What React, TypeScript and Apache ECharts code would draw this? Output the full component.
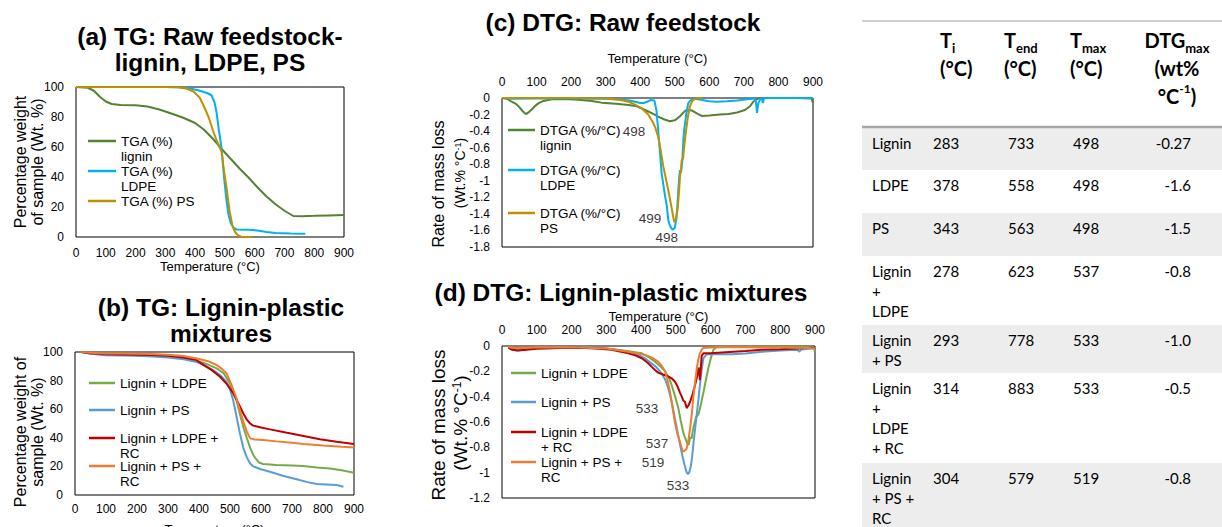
import { useEffect, useRef } from 'react';
import * as echarts from 'echarts';

const FONT = 'Arial, "Liberation Sans", sans-serif';
const TFONT = 'Lato, "Open Sans", sans-serif';

// ---------- data: temperature axis ----------
const tempMin = 0;
const tempMax = 900;
const tempStep = 100;

// ---------- (a) TG raw feedstock: [T (°C), weight %] ----------
const tgaLignin = [[0,100],[40,99.5],[60,97.5],[80,93.5],[100,90.3],[120,88.7],[150,88],[200,87.9],[240,87],[280,85],[320,82.3],[360,79.5],[400,76],[430,71.5],[460,65.5],[490,58.5],[520,52],[550,45.5],[580,39.5],[610,33],[640,27],[670,21.8],[700,17.5],[730,14],[760,13.9],[800,14.1],[850,14.4],[900,14.7]];
const tgaLdpe = [[0,100],[100,100],[200,100],[300,100],[350,99.8],[380,99.2],[410,97.8],[440,96],[455,94.5],[465,90],[472,83],[480,71],[489,59],[497,40],[505,25],[512,15],[520,9],[530,6],[540,5],[580,4.8],[610,4.4],[640,3.3],[670,2.6],[720,2.3],[770,2.2]];
const tgaPs = [[0,100],[100,100],[200,100],[300,100],[340,99.8],[370,99],[395,97],[415,93],[430,87],[445,80],[460,71],[475,63],[489,57],[497,44],[506,32],[516,17],[526,7],[535,3],[545,1],[555,0.2],[590,0]];

// ---------- (b) TG lignin-plastic mixtures ----------
const tgLigninLdpe = [[20,100],[50,99],[100,98.3],[150,98],[200,97.8],[250,97.3],[300,96.8],[350,95.8],[392,94],[420,92],[457,88.6],[480,85],[500,78],[510,72],[521,66],[535,54],[545,46],[554,40],[565,33],[575,28],[581,26],[595,22.5],[607,21.7],[650,21],[700,20.6],[737,20.2],[780,19.2],[823,18.5],[860,17.3],[900,15.6]];
const tgLigninPs = [[20,100],[50,98.8],[100,97.8],[150,97.6],[200,97.3],[250,96.8],[300,96.2],[350,95],[393,93],[420,90.5],[446,87.4],[470,83.5],[489,79],[500,74],[510,66.4],[520,56],[532,43],[543,33],[554,26.5],[565,22],[575,20],[600,18],[629,16.3],[670,13.5],[715,11],[750,9],[780,7.7],[844,7],[866,5.8]];
const tgLigninLdpeRc = [[20,100],[50,99.2],[100,98.5],[150,98.3],[200,98.1],[250,97.9],[300,97.3],[350,96.2],[390,94.6],[414,91],[440,87.5],[468,82.7],[490,77.5],[511,71],[525,65],[543,57],[555,52.5],[565,50],[575,48.5],[600,47.2],[629,45.9],[680,43.7],[737,41.3],[790,39],[844,37.3],[900,35.7]];
const tgLigninPsRc = [[20,100],[50,99.5],[100,99],[150,98.9],[200,98.8],[250,98.6],[300,98.1],[350,97.2],[393,95.5],[430,93.5],[457,90.9],[475,88],[489,85],[505,77],[521,67.6],[532,59],[543,51.3],[555,44],[565,39.6],[580,38.8],[607,38.5],[650,37.5],[700,36.5],[737,35.7],[800,34.7],[860,33.8],[900,33.3]];

// ---------- (c) DTG raw feedstock: [T (°C), %/°C] ----------
const dtgLignin = [[0,0],[15,-0.01],[28,-0.045],[40,-0.07],[50,-0.11],[60,-0.16],[69,-0.195],[78,-0.17],[86,-0.14],[95,-0.1],[105,-0.065],[120,-0.035],[144,-0.016],[180,-0.012],[221,-0.02],[260,-0.035],[288,-0.056],[330,-0.07],[366,-0.085],[390,-0.1],[414,-0.145],[435,-0.185],[452,-0.225],[470,-0.26],[486,-0.28],[500,-0.27],[515,-0.22],[530,-0.155],[540,-0.145],[549,-0.15],[565,-0.19],[578,-0.217],[600,-0.21],[630,-0.2],[655,-0.193],[680,-0.175],[703,-0.145],[718,-0.1],[727,-0.045],[741,-0.005],[780,0],[850,0],[896,-0.005],[900,-0.06]];
const dtgLdpe = [[0,0],[20,-0.01],[100,-0.005],[200,-0.005],[300,-0.01],[350,-0.02],[370,-0.03],[385,-0.045],[400,-0.06],[410,-0.06],[420,-0.045],[430,-0.025],[441,-0.03],[447,-0.15],[452,-0.39],[457,-0.65],[462,-0.91],[467,-1.05],[472,-1.19],[477,-1.3],[481,-1.47],[486,-1.54],[491,-1.58],[494,-1.59],[500,-1.57],[505,-1.45],[508,-1.27],[512,-1.0],[515,-0.87],[518,-0.9],[520,-0.83],[522,-0.75],[525,-0.5],[527,-0.39],[533,-0.2],[539,-0.064],[545,-0.03],[558,-0.01],[575,-0.02],[600,-0.04],[620,-0.045],[650,-0.04],[680,-0.03],[710,-0.015],[730,-0.005],[735,-0.05],[738,-0.18],[742,-0.06],[748,-0.01],[752,-0.01],[755,-0.06],[758,0],[800,0],[900,0]];
const dtgPs = [[0,0],[100,0],[200,0],[300,-0.005],[340,-0.02],[366,-0.045],[385,-0.08],[404,-0.125],[423,-0.2],[435,-0.28],[443,-0.35],[452,-0.47],[460,-0.65],[467,-0.83],[474,-0.97],[481,-1.11],[486,-1.22],[491,-1.33],[496,-1.45],[499,-1.5],[503,-1.46],[508,-1.35],[512,-1.15],[515,-0.95],[518,-0.86],[520,-0.75],[524,-0.73],[527,-0.6],[531,-0.45],[534,-0.35],[539,-0.2],[544,-0.1],[550,-0.04],[558,-0.01],[580,0]];

// ---------- (d) DTG lignin-plastic mixtures ----------
const dtgLigninLdpe = [[18,-0.01],[40,-0.02],[60,-0.02],[100,-0.012],[150,-0.01],[200,-0.01],[250,-0.012],[300,-0.02],[350,-0.035],[402,-0.058],[420,-0.085],[440,-0.124],[455,-0.16],[469,-0.2],[480,-0.25],[488,-0.31],[498,-0.4],[507,-0.49],[514,-0.59],[521,-0.68],[527,-0.73],[533,-0.77],[537,-0.78],[541,-0.72],[545,-0.73],[550,-0.65],[558,-0.56],[565,-0.54],[572,-0.46],[579,-0.37],[586,-0.27],[593,-0.18],[600,-0.1],[608,-0.03],[618,-0.005],[700,-0.005],[800,-0.005],[890,-0.008],[897,-0.01],[900,-0.05]];
const dtgLigninPs = [[18,-0.01],[30,-0.03],[45,-0.035],[60,-0.03],[80,-0.02],[120,-0.01],[200,-0.008],[260,-0.012],[300,-0.02],[340,-0.035],[384,-0.06],[410,-0.095],[430,-0.137],[445,-0.17],[459,-0.216],[470,-0.27],[478,-0.334],[488,-0.44],[497,-0.57],[505,-0.68],[512,-0.78],[519,-0.87],[525,-0.94],[530,-0.99],[534,-1.01],[538,-1.0],[543,-0.95],[547,-0.87],[550,-0.78],[555,-0.66],[560,-0.54],[565,-0.42],[569,-0.31],[574,-0.19],[579,-0.097],[588,-0.066],[620,-0.065],[660,-0.065],[700,-0.06],[747,-0.045],[800,-0.035],[850,-0.03],[855,-0.045],[860,-0.028],[890,-0.02],[900,-0.02]];
const dtgLigninLdpeRc = [[18,-0.013],[30,-0.03],[45,-0.035],[70,-0.03],[100,-0.022],[124,-0.02],[170,-0.015],[219,-0.013],[270,-0.02],[315,-0.03],[363,-0.058],[385,-0.075],[402,-0.097],[418,-0.13],[430,-0.163],[440,-0.19],[449,-0.21],[463,-0.225],[478,-0.24],[490,-0.26],[497,-0.28],[505,-0.32],[512,-0.37],[517,-0.4],[521,-0.43],[526,-0.44],[531,-0.49],[536,-0.47],[541,-0.44],[548,-0.38],[555,-0.31],[561,-0.24],[565,-0.17],[567,-0.2],[569,-0.27],[571,-0.2],[574,-0.08],[579,-0.058],[600,-0.058],[643,-0.05],[700,-0.04],[747,-0.03],[800,-0.025],[850,-0.02],[891,-0.013],[900,-0.015]];
const dtgLigninPsRc = [[18,-0.01],[40,-0.015],[100,-0.012],[200,-0.01],[260,-0.015],[300,-0.02],[363,-0.045],[411,-0.07],[430,-0.09],[449,-0.124],[460,-0.16],[469,-0.2],[476,-0.27],[483,-0.36],[490,-0.48],[497,-0.6],[505,-0.7],[512,-0.76],[516,-0.8],[519,-0.83],[524,-0.83],[528,-0.82],[531,-0.81],[536,-0.74],[541,-0.65],[546,-0.53],[550,-0.41],[555,-0.29],[560,-0.176],[565,-0.1],[569,-0.058],[575,-0.025],[579,-0.016],[600,-0.012],[643,-0.01],[700,-0.01],[800,-0.012],[880,-0.015],[900,-0.02]];

// ---------- peak annotations: [T, value] and text ----------
const peakTextsC = ['498', '499', '498'];
const peakPosC = [[382, -0.4], [428, -1.45], [477, -1.69]];
const peakTextsD = ['533', '537', '519', '533'];
const peakPosD = [[417, -0.49], [446, -0.77], [434, -0.92], [506, -1.1]];

// ---------- table ----------
const tableRows = ['Lignin', 'LDPE', 'PS', 'Lignin\n+\nLDPE', 'Lignin\n+ PS', 'Lignin\n+\nLDPE\n+ RC', 'Lignin\n+ PS +\nRC'];
const tableTi = [283, 378, 343, 278, 293, 314, 304];
const tableTend = [733, 558, 563, 623, 778, 883, 579];
const tableTmax = [498, 498, 498, 537, 533, 533, 519];
const tableDtgMax = ['-0.27', '-1.6', '-1.5', '-0.8', '-1.0', '-0.5', '-0.8'];

// ---------- colours ----------
const COL = {
  lignin: '#548235', ldpe: '#00B0F0', ps: '#BF9000',
  mLdpe: '#70AD47', mPs: '#5B9BD5', mLdpeRc: '#C00000', mPsRc: '#ED7D31',
};

function buildOption() {
  const grids = [
    { left: 76, top: 87, width: 268, height: 150 },
    { left: 75, top: 352, width: 279, height: 143 },
    { left: 502, top: 98, width: 311, height: 149 },
    { left: 502, top: 346, width: 313, height: 152 },
  ];
  const labelMarginX = [10, 8, 10, 10];
  const xNameGap = [23, 28, 33, 22];
  const yRange = [[0, 100, 20], [0, 100, 20], [-1.8, 0, 0.2], [-1.2, 0, 0.2]];

  const xAxis = grids.map((_, i) => ({
    type: 'value', gridIndex: i, min: tempMin, max: tempMax, interval: tempStep,
    position: i >= 2 ? 'top' : 'bottom',
    name: 'Temperature (°C)', nameLocation: 'middle', nameGap: xNameGap[i],
    nameTextStyle: { fontSize: 13, fontFamily: FONT, color: '#000' },
    axisLine: { show: false, onZero: false }, axisTick: { show: false }, splitLine: { show: false },
    axisLabel: { fontSize: 12, fontFamily: FONT, color: '#000', margin: labelMarginX[i] },
  }));
  const yAxis = grids.map((_, i) => ({
    type: 'value', gridIndex: i, min: yRange[i][0], max: yRange[i][1], interval: yRange[i][2],
    axisLine: { show: false }, axisTick: { show: false }, splitLine: { show: false },
    axisLabel: { fontSize: 12, fontFamily: FONT, color: '#000', margin: 12 },
  }));

  const line = (name: string, data: number[][], color: string, idx: number) => ({
    type: 'line', name, data, xAxisIndex: idx, yAxisIndex: idx,
    symbol: 'none', showSymbol: false, silent: true,
    lineStyle: { width: 2, color }, itemStyle: { color }, z: 3,
  });
  const series: any[] = [
    line('TGA (%) lignin', tgaLignin, COL.lignin, 0),
    line('TGA (%) LDPE', tgaLdpe, COL.ldpe, 0),
    line('TGA (%) PS', tgaPs, COL.ps, 0),
    line('Lignin + LDPE', tgLigninLdpe, COL.mLdpe, 1),
    line('Lignin + PS', tgLigninPs, COL.mPs, 1),
    line('Lignin + LDPE + RC', tgLigninLdpeRc, COL.mLdpeRc, 1),
    line('Lignin + PS + RC', tgLigninPsRc, COL.mPsRc, 1),
    line('DTGA (%/°C) lignin', dtgLignin, COL.lignin, 2),
    line('DTGA (%/°C) LDPE', dtgLdpe, COL.ldpe, 2),
    line('DTGA (%/°C) PS', dtgPs, COL.ps, 2),
    line('DTG Lignin + LDPE', dtgLigninLdpe, COL.mLdpe, 3),
    line('DTG Lignin + PS', dtgLigninPs, COL.mPs, 3),
    line('DTG Lignin + LDPE + RC', dtgLigninLdpeRc, COL.mLdpeRc, 3),
    line('DTG Lignin + PS + RC', dtgLigninPsRc, COL.mPsRc, 3),
  ];
  const ann = (texts: string[], pos: number[][], idx: number) => ({
    type: 'scatter', xAxisIndex: idx, yAxisIndex: idx, symbolSize: 0, silent: true, z: 5,
    data: texts.map((t, k) => ({ name: t, value: pos[k] })),
    label: { show: true, position: 'inside', formatter: '{b}', fontSize: 13.5, fontFamily: FONT, color: '#000' },
  });
  series.push(ann(peakTextsC, peakPosC, 2), ann(peakTextsD, peakPosD, 3));

  const LH = 15;
  // Leading blank lines keep the icon level with the first text line.
  const legendItem = (name: string, label: string, left: number, iconY: number, iconW: number) => {
    const n = label.split('\n').length;
    const shown = '\n'.repeat(n - 1) + label;
    return {
      data: [name], orient: 'vertical', left, top: iconY - ((2 * n - 1) * LH) / 2,
      padding: 0, itemGap: 0, itemWidth: iconW, itemHeight: 2.5, icon: 'rect', selectedMode: false,
      itemStyle: { borderWidth: 0 },
      formatter: () => shown,
      textStyle: { fontSize: 13.5, fontFamily: FONT, color: '#000', lineHeight: LH },
    };
  };
  const legend = [
    legendItem('TGA (%) lignin', 'TGA (%)\nlignin', 88, 141, 28),
    legendItem('TGA (%) LDPE', 'TGA (%)\nLDPE', 88, 171, 28),
    legendItem('TGA (%) PS', 'TGA (%) PS', 88, 201, 28),
    legendItem('Lignin + LDPE', 'Lignin + LDPE', 89, 383, 26),
    legendItem('Lignin + PS', 'Lignin + PS', 89, 410, 26),
    legendItem('Lignin + LDPE + RC', 'Lignin + LDPE +\nRC', 89, 438, 26),
    legendItem('Lignin + PS + RC', 'Lignin + PS +\nRC', 89, 466, 26),
    legendItem('DTGA (%/°C) lignin', 'DTGA (%/°C)\nlignin', 508, 130, 27),
    legendItem('DTGA (%/°C) LDPE', 'DTGA (%/°C)\nLDPE', 508, 170, 27),
    legendItem('DTGA (%/°C) PS', 'DTGA (%/°C)\nPS', 508, 213, 27),
    legendItem('DTG Lignin + LDPE', 'Lignin + LDPE', 511, 373, 25),
    legendItem('DTG Lignin + PS', 'Lignin + PS', 511, 402, 25),
    legendItem('DTG Lignin + LDPE + RC', 'Lignin + LDPE\n+ RC', 511, 432, 25),
    legendItem('DTG Lignin + PS + RC', 'Lignin + PS +\nRC', 511, 462, 25),
  ];

  const txt = (text: string, x: number, y: number, font: string, opts: any = {}) => ({
    type: 'text', x, y, rotation: opts.rotation || 0, silent: true, z: 10,
    style: {
      text, font, fill: '#000',
      align: opts.align || 'center', textAlign: opts.align || 'center',
      verticalAlign: opts.va || 'middle', textVerticalAlign: opts.va || 'middle',
      lineHeight: opts.lh, rich: opts.rich,
    },
  });
  const R90 = Math.PI / 2;
  const sup = (fs: number) => ({ sup: { fontSize: fs, fontFamily: FONT, verticalAlign: 'top', lineHeight: fs + 2 } });

  const graphic: any[] = [
    txt('(a) TG: Raw feedstock-\nlignin, LDPE, PS', 210, 49, `bold 24.5px ${FONT}`, { lh: 26 }),
    txt('(b) TG: Lignin-plastic\nmixtures', 221, 320, `bold 24.5px ${FONT}`, { lh: 26 }),
    txt('(c) DTG: Raw feedstock', 623, 22, `bold 24.5px ${FONT}`),
    txt('(d) DTG: Lignin-plastic mixtures', 621, 292, `bold 24.5px ${FONT}`),
    txt('Percentage weight', 20, 162, `16px ${FONT}`, { rotation: R90 }),
    txt('of sample (Wt. %)', 37, 162, `16px ${FONT}`, { rotation: R90 }),
    txt('Percentage weight of', 20, 432, `16px ${FONT}`, { rotation: R90 }),
    txt('sample (Wt. %)', 37, 432, `16px ${FONT}`, { rotation: R90 }),
    txt('Rate of mass loss', 438, 184, `16px ${FONT}`, { rotation: R90 }),
    txt('(Wt.% °C{sup|-1})', 460, 173, `14px ${FONT}`, { rotation: R90, rich: sup(9) }),
    txt('Rate of mass loss', 438, 425, `19px ${FONT}`, { rotation: R90 }),
    txt('(Wt.% °C{sup|-1})', 460, 423, `19px ${FONT}`, { rotation: R90, rich: sup(12) }),
  ];

  // table
  const TX0 = 862, TX1 = 1222;
  const rowTops = [128, 170, 213, 256, 325, 373, 463, 527];
  tableRows.forEach((_, r) => {
    if (r % 2 === 0) {
      graphic.push({ type: 'rect', silent: true, z: 1, shape: { x: TX0, y: rowTops[r], width: TX1 - TX0, height: rowTops[r + 1] - rowTops[r] }, style: { fill: '#ededed' } });
    }
  });
  graphic.push({ type: 'line', silent: true, z: 2, shape: { x1: TX0, y1: 21, x2: TX1, y2: 21 }, style: { stroke: '#bfbfbf', lineWidth: 1.5 } });
  graphic.push({ type: 'line', silent: true, z: 2, shape: { x1: TX0, y1: 127, x2: TX1, y2: 127 }, style: { stroke: '#a6a6a6', lineWidth: 2.5 } });
  const hFont = `bold 20px ${TFONT}`;
  const subRich = { s: { fontSize: 13, fontWeight: 'bold', fontFamily: TFONT, verticalAlign: 'bottom', lineHeight: 16 }, p: { fontSize: 12, fontWeight: 'bold', fontFamily: TFONT, verticalAlign: 'top', lineHeight: 16 } };
  graphic.push(txt('T{s|i}\n(°C)', 940, 26, hFont, { align: 'left', va: 'top', lh: 28, rich: subRich }));
  graphic.push(txt('T{s|end}\n(°C)', 1004, 26, hFont, { align: 'left', va: 'top', lh: 28, rich: subRich }));
  graphic.push(txt('T{s|max}\n(°C)', 1070, 26, hFont, { align: 'left', va: 'top', lh: 28, rich: subRich }));
  graphic.push(txt('DTG{s|max}\n(wt%\n°C{p|-1})', 1177, 26, hFont, { align: 'center', va: 'top', lh: 28, rich: subRich }));
  const bFont = `15px ${TFONT}`;
  tableRows.forEach((name, r) => {
    const y = rowTops[r] + 5;
    graphic.push(txt(name, 872, y, bFont, { align: 'left', va: 'top', lh: 20 }));
    graphic.push(txt(String(tableTi[r]), 933, y, bFont, { align: 'left', va: 'top', lh: 20 }));
    graphic.push(txt(String(tableTend[r]), 1008, y, bFont, { align: 'left', va: 'top', lh: 20 }));
    graphic.push(txt(String(tableTmax[r]), 1073, y, bFont, { align: 'left', va: 'top', lh: 20 }));
    graphic.push(txt(tableDtgMax[r], 1191, y, bFont, { align: 'right', va: 'top', lh: 20 }));
  });

  return {
    animation: false,
    backgroundColor: '#fff',
    grid: grids.map(g => ({ ...g, show: true, borderColor: '#000', borderWidth: 1, backgroundColor: 'transparent', containLabel: false, outerBoundsMode: 'none' })),
    xAxis, yAxis, series, legend, graphic,
  };
}

export default function App() {
  const ref = useRef<HTMLDivElement>(null);
  useEffect(() => {
    const chart = echarts.init(ref.current!, null, { renderer: 'svg' });
    chart.setOption(buildOption() as any);
    return () => chart.dispose();
  }, []);
  return <div ref={ref} style={{ position: 'absolute', left: 0, top: 0, width: 1222, height: 527, background: '#fff' }} />;
}
